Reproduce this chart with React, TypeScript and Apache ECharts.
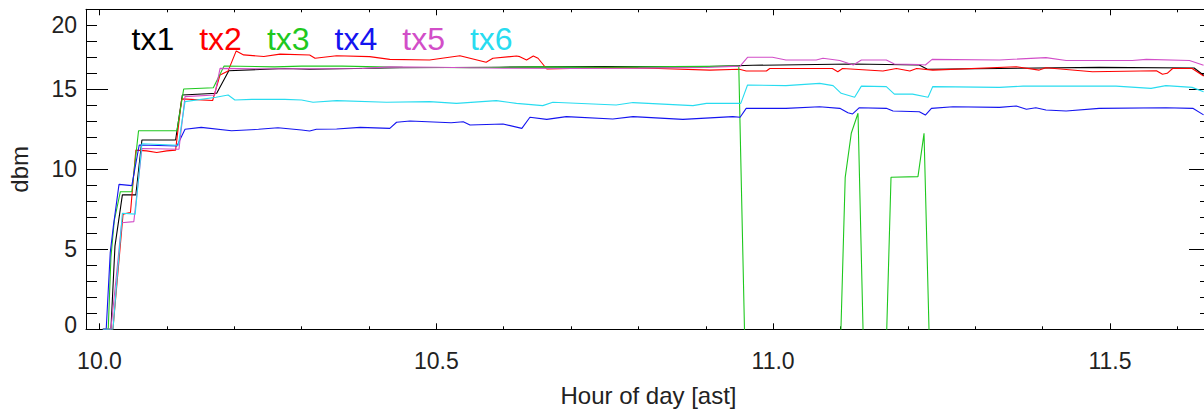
import React, { useEffect, useRef } from "react";
import * as echarts from "echarts";

const FONT = "'Liberation Sans', Arial, Helvetica, sans-serif";

const seriesNames = ["tx1", "tx2", "tx3", "tx4", "tx5", "tx6"];
const seriesColors = ["#000000", "#ff0000", "#1ec81e", "#1414f0", "#d24ec8", "#28dcf0"];

const hourLabels = [10.0, 10.5, 11.0, 11.5];
const hourMinorTicks = [
  10.0, 10.1, 10.2, 10.3, 10.4, 10.5, 10.6, 10.7, 10.8, 10.9,
  11.0, 11.1, 11.2, 11.3, 11.4, 11.5, 11.6,
];

const tx1: [number, number][] = [
  [10.005, 0], [10.017, 0], [10.023, 5.2], [10.034, 8.4], [10.054, 8.4],
  [10.063, 11.83], [10.113, 11.83], [10.123, 14.64], [10.174, 14.75],
  [10.192, 16.16], [10.275, 16.3], [10.312, 16.25], [10.446, 16.35],
  [10.594, 16.38], [10.743, 16.42], [10.891, 16.4], [10.97, 16.5],
  [11.118, 16.58], [11.217, 16.52], [11.229, 16.25], [11.336, 16.3],
  [11.484, 16.37], [11.625, 16.33], [11.64, 15.85],
];

const tx2: [number, number][] = [
  [10.005, 0], [10.02, 0], [10.035, 7.2], [10.046, 7.3], [10.054, 11.2],
  [10.07, 11.15], [10.085, 11.05], [10.1, 11.15], [10.113, 11.2],
  [10.122, 14.4], [10.168, 14.3], [10.179, 15.9], [10.191, 16.15],
  [10.203, 17.4], [10.214, 17.15], [10.244, 17.05], [10.268, 17.2],
  [10.312, 17.14], [10.32, 16.94], [10.352, 17.1], [10.401, 17.04],
  [10.431, 16.87], [10.49, 16.83], [10.535, 17.1], [10.55, 16.94],
  [10.574, 16.69], [10.584, 16.94], [10.619, 17.08], [10.624, 17.04],
  [10.634, 16.83], [10.644, 17.08], [10.651, 16.94], [10.664, 16.27],
  [10.75, 16.35], [10.83, 16.3], [10.906, 16.2], [10.95, 16.25],
  [10.96, 16.14], [10.99, 16.14], [10.995, 16.3], [11.088, 16.3],
  [11.096, 16.1], [11.103, 16.3], [11.163, 16.14], [11.183, 16.3],
  [11.203, 16.14], [11.213, 16.3], [11.237, 16.2], [11.361, 16.41],
  [11.395, 16.2], [11.405, 16.35], [11.474, 16.1], [11.569, 16.16],
  [11.578, 15.94], [11.585, 16.0], [11.593, 16.3], [11.622, 16.3],
  [11.639, 15.83],
];

const tx3: [number, number][] = [
  [10.005, 0], [10.013, 0], [10.017, 4.5], [10.022, 6.8], [10.031, 8.6],
  [10.048, 8.6], [10.058, 12.41], [10.115, 12.41], [10.125, 15.02],
  [10.169, 15.1], [10.185, 16.46], [10.26, 16.4], [10.3, 16.45],
  [10.36, 16.45], [10.45, 16.38], [10.55, 16.35], [10.65, 16.4],
  [10.75, 16.38], [10.85, 16.42], [10.949, 16.45], [10.958, -1],
  [11.1, -1], [11.107, 9.5], [11.116, 12.25], [11.126, 13.5], [11.134, -1],
  [11.168, -1], [11.175, 9.5], [11.215, 9.54], [11.224, 12.25],
  [11.232, -1], [11.645, -1],
];

const tx4: [number, number][] = [
  [10.005, 0], [10.01, 0], [10.016, 4.8], [10.0205, 6.4], [10.029, 9.06],
  [10.048, 8.98], [10.059, 11.52], [10.115, 11.46], [10.127, 12.5],
  [10.151, 12.62], [10.196, 12.41], [10.236, 12.5], [10.265, 12.6],
  [10.3, 12.46], [10.312, 12.39], [10.322, 12.5], [10.352, 12.52],
  [10.387, 12.62], [10.431, 12.56], [10.441, 12.94], [10.461, 13.02],
  [10.522, 12.91], [10.54, 12.97], [10.55, 12.77], [10.599, 12.83],
  [10.627, 12.56], [10.639, 13.25], [10.664, 13.12], [10.693, 13.29],
  [10.762, 13.14], [10.792, 13.29], [10.866, 13.12], [10.94, 13.29],
  [10.951, 13.25], [10.96, 13.81], [11.019, 13.81], [11.069, 13.91],
  [11.099, 13.81], [11.111, 13.54], [11.118, 13.46], [11.128, 13.85],
  [11.168, 13.81], [11.178, 13.64], [11.217, 13.6], [11.226, 13.39],
  [11.235, 13.81], [11.267, 13.91], [11.336, 13.87], [11.361, 13.96],
  [11.376, 13.75], [11.39, 13.85], [11.405, 13.71], [11.435, 13.64],
  [11.484, 13.81], [11.583, 13.85], [11.623, 13.81], [11.639, 13.4],
];

const tx5: [number, number][] = [
  [10.005, 0], [10.017, 0], [10.033, 6.66], [10.051, 6.73], [10.063, 11.3],
  [10.118, 11.25], [10.127, 14.54], [10.171, 14.64], [10.179, 16.31],
  [10.25, 16.28], [10.3, 16.28], [10.39, 16.3], [10.43, 16.4],
  [10.5, 16.38], [10.6, 16.32], [10.7, 16.3], [10.8, 16.32], [10.9, 16.36],
  [10.951, 16.45], [10.962, 17.0], [10.999, 17.0], [11.019, 16.83],
  [11.064, 16.83], [11.074, 16.94], [11.099, 16.8], [11.119, 16.52],
  [11.131, 16.83], [11.168, 16.83], [11.18, 16.58], [11.217, 16.55],
  [11.226, 16.52], [11.236, 16.87], [11.336, 16.83], [11.405, 16.98],
  [11.435, 16.8], [11.533, 16.8], [11.554, 16.87], [11.618, 16.8],
  [11.639, 16.5],
];

const tx6: [number, number][] = [
  [10.005, 0], [10.02, 0], [10.034, 7.25], [10.053, 7.2], [10.063, 11.6],
  [10.117, 11.5], [10.127, 14.23], [10.173, 14.5], [10.191, 14.64],
  [10.201, 14.33], [10.226, 14.37], [10.275, 14.37], [10.3, 14.33],
  [10.317, 14.19], [10.352, 14.29], [10.426, 14.19], [10.49, 14.23],
  [10.53, 14.12], [10.589, 14.29], [10.619, 14.12], [10.658, 13.98],
  [10.673, 14.19], [10.767, 14.02], [10.792, 14.17], [10.881, 13.98],
  [10.901, 14.12], [10.952, 14.12], [10.962, 15.27], [11.019, 15.23],
  [11.069, 15.37], [11.089, 15.23], [11.101, 14.75], [11.121, 14.5],
  [11.131, 15.2], [11.168, 15.17], [11.18, 14.7], [11.207, 14.7],
  [11.23, 14.5], [11.237, 15.17], [11.336, 15.12], [11.371, 15.2],
  [11.509, 15.2], [11.561, 15.06], [11.583, 15.23], [11.622, 15.12],
  [11.639, 14.85],
];

const allSeries = [tx1, tx2, tx3, tx4, tx5, tx6];

const X_MIN = 9.98;
const X_MAX = 11.65;

function makeXAxis(position: "top" | "bottom", major: boolean, showLabels: boolean) {
  return {
    type: "value",
    position,
    min: X_MIN,
    max: X_MAX,
    axisLine: { show: major, onZero: false, lineStyle: { color: "#000", width: 1 } },
    axisTick: {
      show: true,
      inside: true,
      length: major ? 6 : 3,
      customValues: major ? hourLabels : hourMinorTicks,
      lineStyle: { color: "#000", width: 1 },
    },
    axisLabel: {
      show: showLabels,
      customValues: hourLabels,
      formatter: (v: number) => v.toFixed(1),
      fontFamily: FONT,
      fontSize: 23,
      color: "#222",
      margin: 20,
    },
    splitLine: { show: false },
    ...(showLabels
      ? {
          name: "Hour of day [ast]",
          nameLocation: "middle",
          nameGap: 54,
          nameTextStyle: { fontFamily: FONT, fontSize: 24, color: "#222" },
        }
      : {}),
  };
}

function makeYAxis(position: "left" | "right", showLabels: boolean) {
  return {
    type: "value",
    position,
    min: 0,
    max: 20,
    interval: 5,
    axisLine: { show: true, onZero: false, lineStyle: { color: "#000", width: 1 } },
    axisTick: { show: true, inside: true, length: 22, lineStyle: { color: "#000", width: 1 } },
    minorTick: { show: true, splitNumber: 5, length: 11, lineStyle: { color: "#000", width: 1 } },
    axisLabel: {
      show: showLabels,
      fontFamily: FONT,
      fontSize: 23,
      color: "#222",
      margin: 9,
      formatter: (v: number) => (v === 0 ? "{lo|0}" : v === 20 ? "{hi|20}" : String(v)),
      rich: {
        lo: { fontFamily: FONT, fontSize: 23, color: "#222", padding: [0, 0, 8, 0] },
        hi: { fontFamily: FONT, fontSize: 23, color: "#222", padding: [32, 0, 0, 0] },
      },
    },
    splitLine: { show: false },
    minorSplitLine: { show: false },
    ...(showLabels
      ? {
          name: "dbm",
          nameLocation: "middle",
          nameGap: 55,
          nameTextStyle: { fontFamily: FONT, fontSize: 24, color: "#222" },
        }
      : {}),
  };
}

export default function App() {
  const ref = useRef<HTMLDivElement>(null);

  useEffect(() => {
    if (!ref.current) return;
    document.body.style.margin = "0";
    const chart = echarts.init(ref.current, undefined, { renderer: "svg" });
    chart.setOption({
      animation: false,
      backgroundColor: "#ffffff",
      textStyle: { fontFamily: FONT },
      grid: {
        left: 86,
        right: 19,
        top: 9.3,
        bottom: 80.7,
        containLabel: false,
        outerBoundsMode: "none",
      },
      legend: {
        show: true,
        left: 126.5,
        top: 23,
        padding: 0,
        icon: "none",
        itemWidth: 0,
        itemGap: 20,
        selectedMode: false,
        textStyle: { fontFamily: FONT, fontSize: 32 },
        data: seriesNames.map((n, i) => ({ name: n, textStyle: { color: seriesColors[i] } })),
      },
      xAxis: [
        makeXAxis("bottom", true, true),
        makeXAxis("bottom", false, false),
        makeXAxis("top", true, false),
        makeXAxis("top", false, false),
      ],
      yAxis: [makeYAxis("left", true), makeYAxis("right", false)],
      series: allSeries.map((d, i) => ({
        name: seriesNames[i],
        type: "line",
        xAxisIndex: 0,
        yAxisIndex: 0,
        data: d,
        symbol: "none",
        showSymbol: false,
        clip: true,
        color: seriesColors[i],
        lineStyle: { color: seriesColors[i], width: 1.1 },
        emphasis: { disabled: true },
      })),
    });
    return () => chart.dispose();
  }, []);

  return (
    <div
      style={{
        position: "fixed",
        left: 0,
        top: 0,
        width: 1204,
        height: 410,
        overflow: "hidden",
        background: "#fff",
      }}
    >
      <div ref={ref} style={{ width: 1230, height: 410 }} />
    </div>
  );
}
